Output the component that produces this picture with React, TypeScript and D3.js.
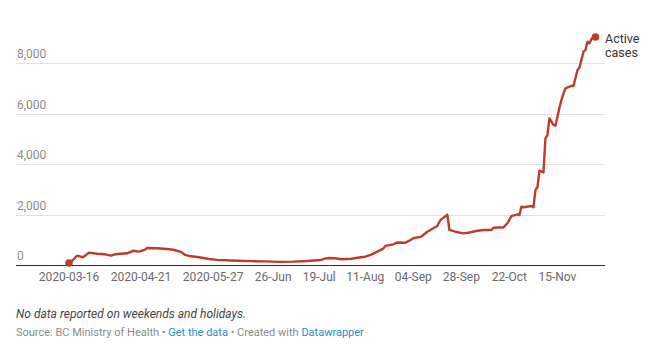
import React from "react";
import * as d3 from "d3";

const dates: string[] = [
  "2020-03-16","2020-03-18","2020-03-20","2020-03-23","2020-03-26","2020-03-30","2020-04-01","2020-04-03",
  "2020-04-06","2020-04-08","2020-04-14","2020-04-17","2020-04-20","2020-04-23","2020-04-24","2020-04-29",
  "2020-05-04","2020-05-07","2020-05-11","2020-05-13","2020-05-15","2020-05-20","2020-05-25","2020-05-29",
  "2020-06-08","2020-06-15","2020-06-22","2020-06-29","2020-07-06","2020-07-13","2020-07-20","2020-07-22",
  "2020-07-24","2020-07-27","2020-07-30","2020-08-04","2020-08-07","2020-08-11","2020-08-14","2020-08-17",
  "2020-08-20","2020-08-21","2020-08-25","2020-08-27","2020-08-31","2020-09-02","2020-09-04","2020-09-08",
  "2020-09-11","2020-09-14","2020-09-16","2020-09-17","2020-09-18","2020-09-21","2020-09-22","2020-09-25",
  "2020-09-29","2020-10-02","2020-10-06","2020-10-09","2020-10-13","2020-10-14","2020-10-19","2020-10-21",
  "2020-10-23","2020-10-26","2020-10-27","2020-10-28","2020-10-29","2020-11-02","2020-11-03","2020-11-04",
  "2020-11-05","2020-11-06","2020-11-08","2020-11-09","2020-11-10","2020-11-11","2020-11-13","2020-11-14",
  "2020-11-16","2020-11-17","2020-11-18","2020-11-19","2020-11-22","2020-11-23","2020-11-25","2020-11-26",
  "2020-11-28","2020-11-29","2020-11-30","2020-12-01","2020-12-02","2020-12-03","2020-12-04"
];

const activeCases: number[] = [
  90, 210, 380, 320, 500, 460, 450, 435,
  380, 435, 475, 575, 540, 620, 685, 675,
  645, 615, 530, 410, 370, 320, 250, 215,
  180, 165, 155, 135, 145, 170, 210, 270,
  290, 280, 240, 260, 300, 340, 420, 540,
  660, 770, 830, 905, 895, 975, 1070, 1135,
  1330, 1465, 1560, 1725, 1820, 2000, 1400, 1330,
  1265, 1300, 1370, 1400, 1400, 1490, 1505, 1665,
  1950, 2020, 1990, 2320, 2300, 2350, 2300, 2980,
  3090, 3750, 3680, 5030, 5160, 5820, 5560, 5530,
  6250, 6550, 6800, 7010, 7110, 7100, 7735, 7830,
  8460, 8530, 8855, 8790, 8960, 9050, 9040
];

const yTicks: number[] = [0, 2000, 4000, 6000, 8000];
const xTickDates: string[] = [
  "2020-03-16","2020-04-21","2020-05-27","2020-06-26","2020-07-19",
  "2020-08-11","2020-09-04","2020-09-28","2020-10-22","2020-11-15"
];
const xTickLabels: string[] = [
  "2020-03-16","2020-04-21","2020-05-27","26-Jun","19-Jul",
  "11-Aug","04-Sep","28-Sep","22-Oct","15-Nov"
];

const seriesLabel = ["Active", "cases"];
const note = "No data reported on weekends and holidays.";

export default function App() {
  const W = 669, H = 351;
  const parse = d3.timeParse("%Y-%m-%d");
  const data = dates.map((d, i) => ({ date: parse(d) as Date, v: activeCases[i] }));

  const x = d3.scaleTime()
    .domain([parse("2020-03-16") as Date, parse("2020-12-04") as Date])
    .range([69, 595.5]);
  const y = d3.scaleLinear().domain([0, 8000]).range([265.3, 63.3]);

  const line = d3.line<{ date: Date; v: number }>()
    .x(d => x(d.date))
    .y(d => y(d.v))
    .curve(d3.curveLinear);

  const first = data[0];
  const last = data[data.length - 1];
  const font = "Roboto, 'Helvetica Neue', Arial, sans-serif";
  const red = "#c13b2b";

  return (
    <svg width={W} height={H} style={{ position: "absolute", left: 0, top: 0, background: "#fff" }} fontFamily={font}>
      {yTicks.map(t => (
        <g key={t}>
          {t > 0 && (
            <line x1={16} x2={605} y1={Math.round(y(t)) + 0.5} y2={Math.round(y(t)) + 0.5} stroke="#e2e2e2" strokeWidth={1} />
          )}
          <text x={17} y={y(t) - 5} fontSize={12} fill="#8c8c8c">{d3.format(",")(t)}</text>
        </g>
      ))}
      <line x1={16} x2={605} y1={265.5} y2={265.5} stroke="#333" strokeWidth={1} />
      {xTickDates.map((d, i) => (
        <text key={d} x={x(parse(d) as Date)} y={281} fontSize={12} fill="#6a6a6a" textAnchor="middle">
          {xTickLabels[i]}
        </text>
      ))}
      <path d={line(data) || ""} fill="none" stroke={red} strokeWidth={2.4} strokeLinejoin="round" strokeLinecap="round" />
      <circle cx={x(first.date)} cy={y(first.v)} r={3.8} fill={red} />
      <circle cx={x(last.date)} cy={y(last.v)} r={3.8} fill={red} />
      <text x={605} y={43} fontSize={12.5} fill="#333">
        <tspan x={605} dy={0}>{seriesLabel[0]}</tspan>
        <tspan x={605} dy={13.5}>{seriesLabel[1]}</tspan>
      </text>
      <text x={16} y={317.5} fontSize={12} fontStyle="italic" fill="#444">{note}</text>
      <text x={16} y={336} fontSize={11} fill="#8a8a8a">
        <tspan>Source: BC Ministry of Health • </tspan>
        <tspan fill="#1d8ec4">Get the data</tspan>
        <tspan> • Created with </tspan>
        <tspan fill="#1d8ec4">Datawrapper</tspan>
      </text>
    </svg>
  );
}
